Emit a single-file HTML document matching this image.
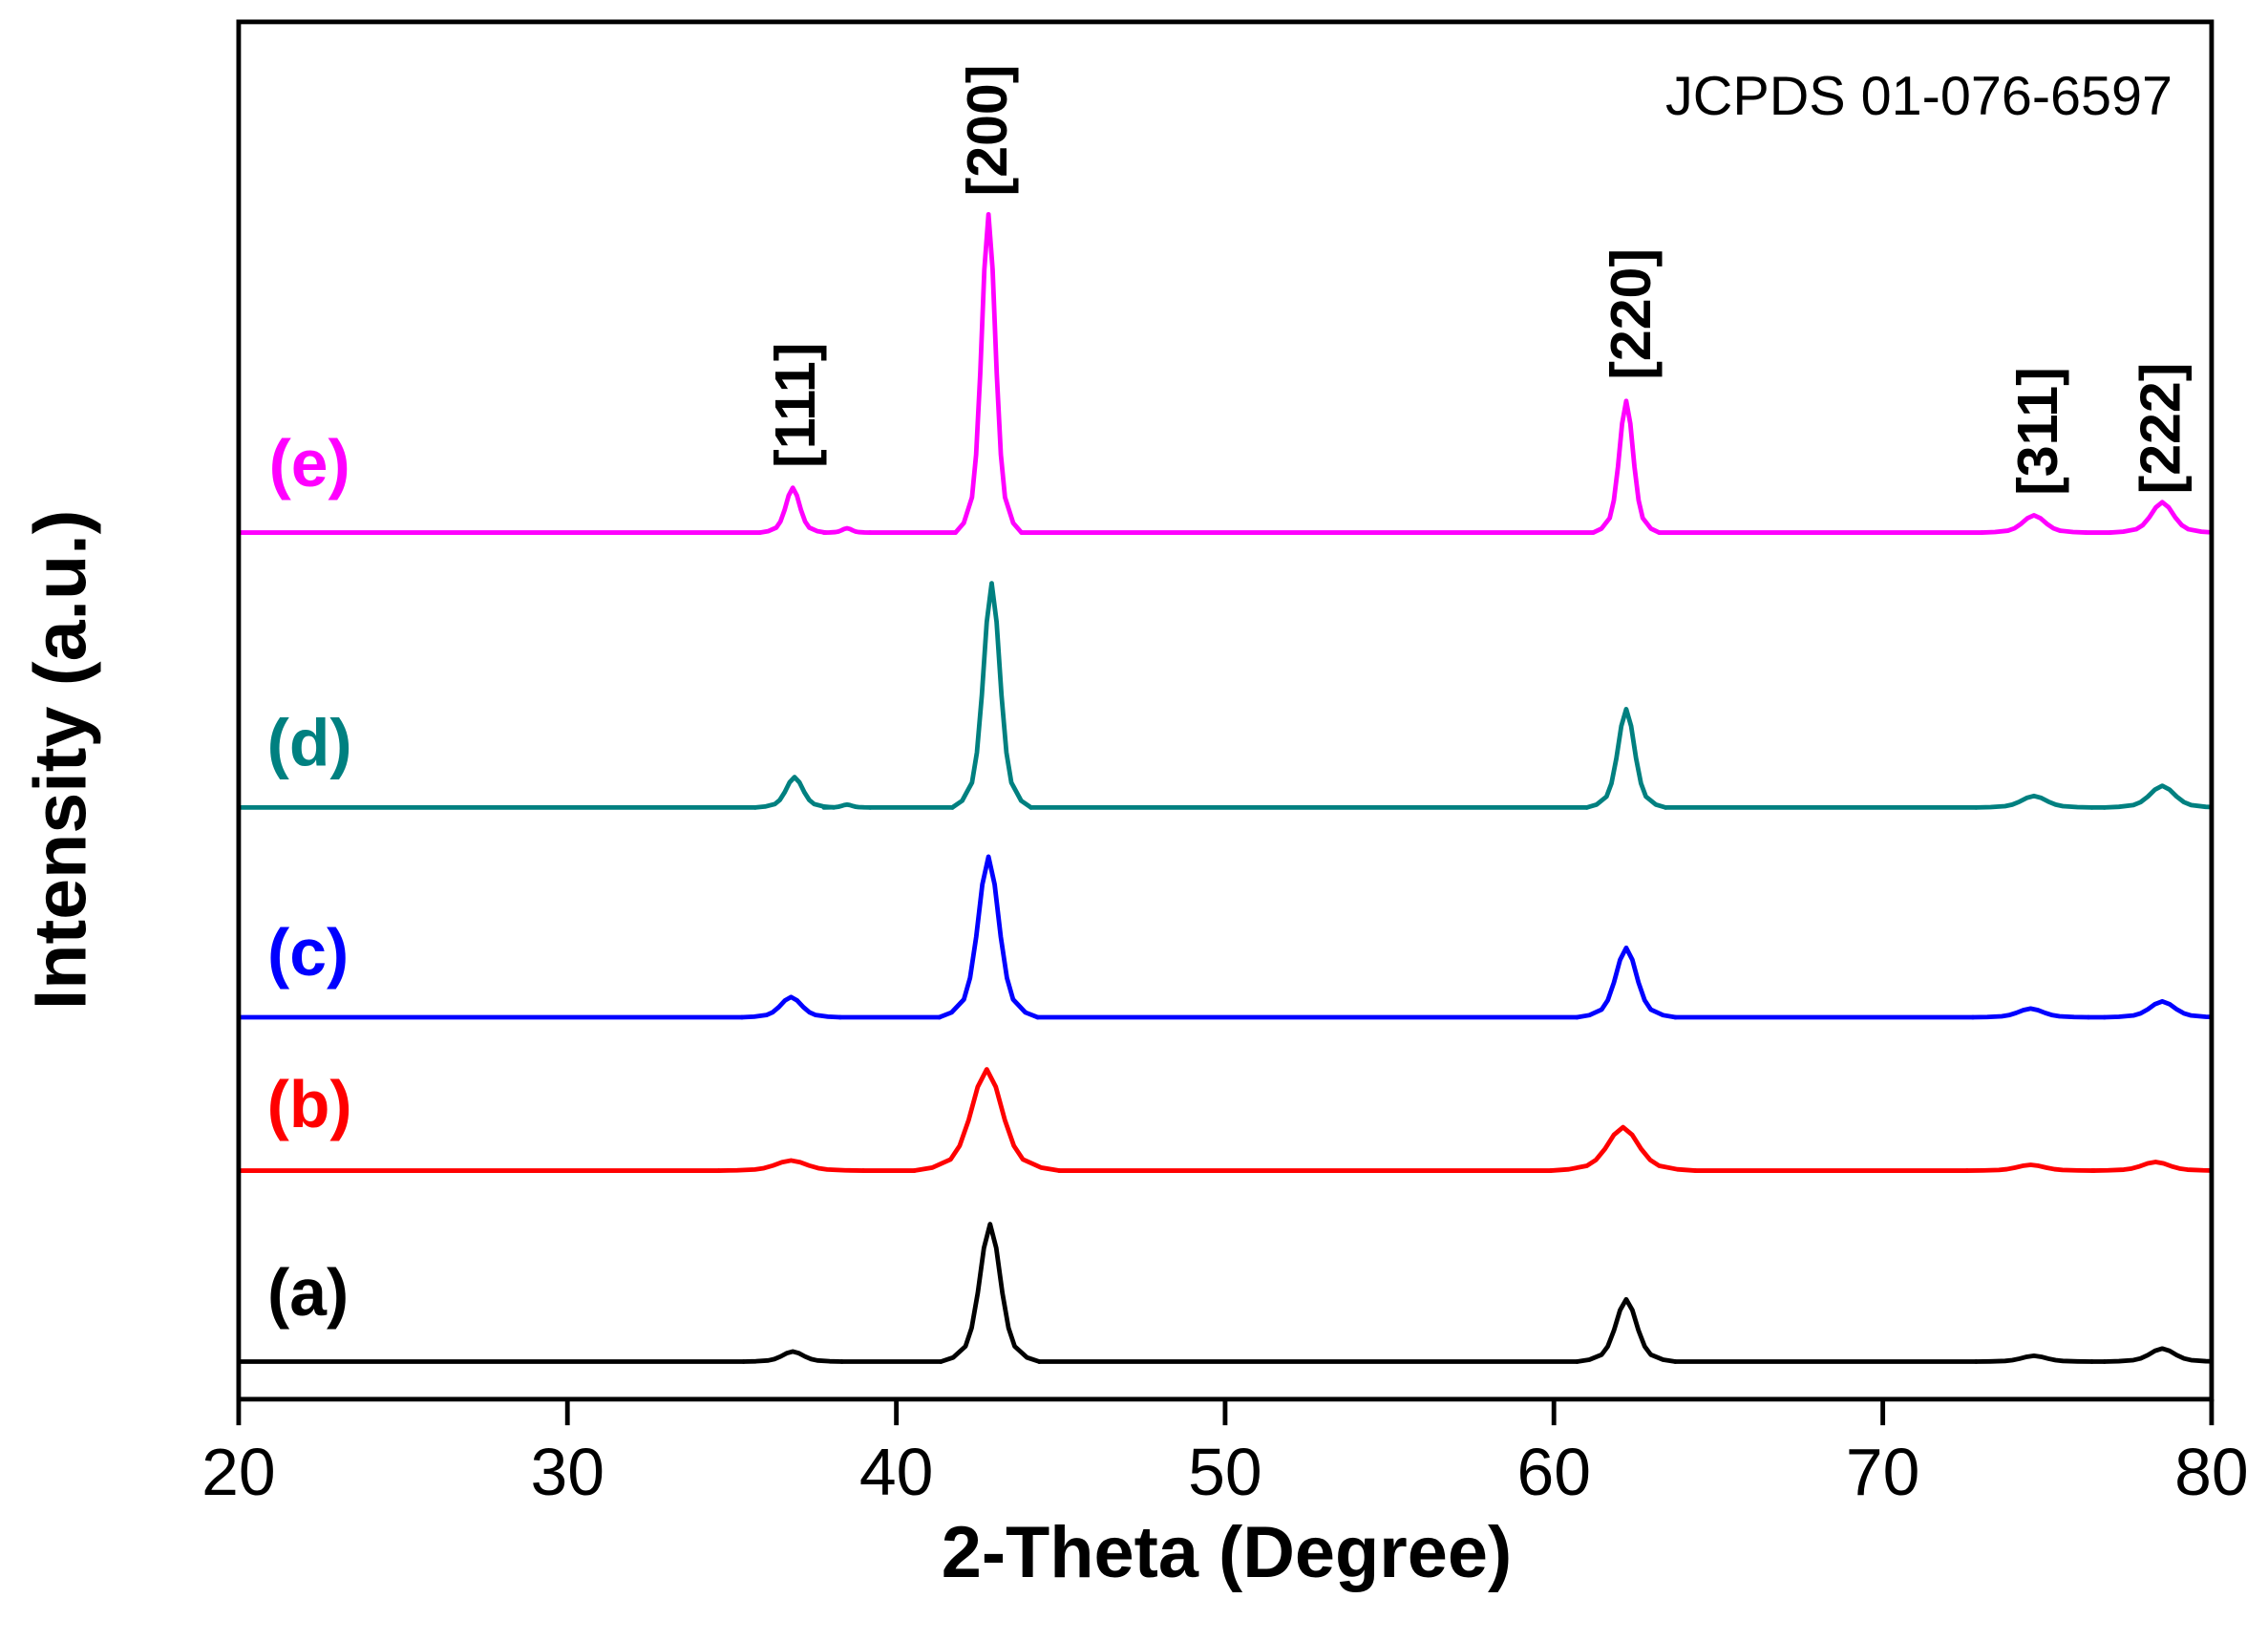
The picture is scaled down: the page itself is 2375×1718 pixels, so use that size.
<!DOCTYPE html>
<html><head><meta charset="utf-8"><style>html,body{margin:0;padding:0;background:#fff}svg{display:block}path[vector-effect]{stroke-width:4.8}</style></head>
<body>
<svg width="2375" height="1718" viewBox="0 0 1568 1134" xmlns="http://www.w3.org/2000/svg" font-family="Liberation Sans, Arial, sans-serif">
<defs><clipPath id="cp"><rect x="165" y="15" width="1364" height="952"/></clipPath></defs>
<rect width="1568" height="1134" fill="#fff"/>
<g clip-path="url(#cp)" fill="none" stroke-width="3.2" stroke-linejoin="round" stroke-linecap="round">
<g stroke="#000">
<path d="M165 941 H514 M582 941 H650.5 M718.5 941 H1090.3 M1158.3 941 H1366.2 M1446.2 941 H1454.9"/>
<path vector-effect="non-scaling-stroke" transform="translate(548.1,941) scale(8.5,-7)" d="M-4 0 L-3 .03 L-2 .111 L-1.5 .245 L-1 .5 L-.5 .827 L0 1 L.5 .827 L1 .5 L1.5 .245 L2 .111 L3 .03 L4 0"/>
<path vector-effect="non-scaling-stroke" transform="translate(684.5,941) scale(8.5,-95)" d="M-4 0 L-3 .03 L-2 .111 L-1.5 .245 L-1 .5 L-.5 .827 L0 1 L.5 .827 L1 .5 L1.5 .245 L2 .111 L3 .03 L4 0"/>
<path vector-effect="non-scaling-stroke" transform="translate(1124.3,941) scale(8.5,-43)" d="M-4 0 L-3 .03 L-2 .111 L-1.5 .245 L-1 .5 L-.5 .827 L0 1 L.5 .827 L1 .5 L1.5 .245 L2 .111 L3 .03 L4 0"/>
<path vector-effect="non-scaling-stroke" transform="translate(1406.2,941) scale(10,-4)" d="M-4 0 L-3 .03 L-2 .111 L-1.5 .245 L-1 .5 L-.5 .827 L0 1 L.5 .827 L1 .5 L1.5 .245 L2 .111 L3 .03 L4 0"/>
<path vector-effect="non-scaling-stroke" transform="translate(1494.9,941) scale(10,-9)" d="M-4 0 L-3 .03 L-2 .111 L-1.5 .245 L-1 .5 L-.5 .827 L0 1 L.5 .827 L1 .5 L1.5 .245 L2 .111 L3 .03 L4 0"/>
</g>
<g stroke="#ff0000">
<path d="M165 809 H496.9 M596.9 809 H632.2 M732.2 809 H1072.1 M1172.1 809 H1359.9"/>
<path vector-effect="non-scaling-stroke" transform="translate(546.9,809) scale(12.5,-7)" d="M-4 0 L-3 .03 L-2 .111 L-1.5 .245 L-1 .5 L-.5 .827 L0 1 L.5 .827 L1 .5 L1.5 .245 L2 .111 L3 .03 L4 0"/>
<path vector-effect="non-scaling-stroke" transform="translate(682.2,809) scale(12.5,-70)" d="M-4 0 L-3 .03 L-2 .111 L-1.5 .245 L-1 .5 L-.5 .827 L0 1 L.5 .827 L1 .5 L1.5 .245 L2 .111 L3 .03 L4 0"/>
<path vector-effect="non-scaling-stroke" transform="translate(1122.1,809) scale(12.5,-30)" d="M-4 0 L-3 .03 L-2 .111 L-1.5 .245 L-1 .5 L-.5 .827 L0 1 L.5 .827 L1 .5 L1.5 .245 L2 .111 L3 .03 L4 0"/>
<path vector-effect="non-scaling-stroke" transform="translate(1403.9,809) scale(11,-4)" d="M-4 0 L-3 .03 L-2 .111 L-1.5 .245 L-1 .5 L-.5 .827 L0 1 L.5 .827 L1 .5 L1.5 .245 L2 .111 L3 .03 L4 0"/>
<path vector-effect="non-scaling-stroke" transform="translate(1490.3,809) scale(11,-6)" d="M-4 0 L-3 .03 L-2 .111 L-1.5 .245 L-1 .5 L-.5 .827 L0 1 L.5 .827 L1 .5 L1.5 .245 L2 .111 L3 .03 L4 0"/>
</g>
<g stroke="#0000ff">
<path d="M165 703 H512.9 M580.9 703 H649.4 M717.4 703 H1090.3 M1158.3 703 H1363.9 M1443.9 703 H1454.9"/>
<path vector-effect="non-scaling-stroke" transform="translate(546.9,703) scale(8.5,-14)" d="M-4 0 L-3 .03 L-2 .111 L-1.5 .245 L-1 .5 L-.5 .827 L0 1 L.5 .827 L1 .5 L1.5 .245 L2 .111 L3 .03 L4 0"/>
<path vector-effect="non-scaling-stroke" transform="translate(683.4,703) scale(8.5,-111)" d="M-4 0 L-3 .03 L-2 .111 L-1.5 .245 L-1 .5 L-.5 .827 L0 1 L.5 .827 L1 .5 L1.5 .245 L2 .111 L3 .03 L4 0"/>
<path vector-effect="non-scaling-stroke" transform="translate(1124.3,703) scale(8.5,-48)" d="M-4 0 L-3 .03 L-2 .111 L-1.5 .245 L-1 .5 L-.5 .827 L0 1 L.5 .827 L1 .5 L1.5 .245 L2 .111 L3 .03 L4 0"/>
<path vector-effect="non-scaling-stroke" transform="translate(1403.9,703) scale(10,-6)" d="M-4 0 L-3 .03 L-2 .111 L-1.5 .245 L-1 .5 L-.5 .827 L0 1 L.5 .827 L1 .5 L1.5 .245 L2 .111 L3 .03 L4 0"/>
<path vector-effect="non-scaling-stroke" transform="translate(1494.9,703) scale(10,-11)" d="M-4 0 L-3 .03 L-2 .111 L-1.5 .245 L-1 .5 L-.5 .827 L0 1 L.5 .827 L1 .5 L1.5 .245 L2 .111 L3 .03 L4 0"/>
</g>
<g stroke="#008080">
<path d="M165 558 H522.1 M601.6 558 H658.4 M712.8 558 H1097.1 M1151.5 558 H1366.2 M1446.2 558 H1454.9"/>
<path vector-effect="non-scaling-stroke" transform="translate(549.3,558) scale(6.8,-21)" d="M-4 0 L-3 .03 L-2 .111 L-1.5 .245 L-1 .5 L-.5 .827 L0 1 L.5 .827 L1 .5 L1.5 .245 L2 .111 L3 .03 L4 0"/>
<path vector-effect="non-scaling-stroke" transform="translate(585.6,558) scale(4,-2)" d="M-4 0 L-3 .03 L-2 .111 L-1.5 .245 L-1 .5 L-.5 .827 L0 1 L.5 .827 L1 .5 L1.5 .245 L2 .111 L3 .03 L4 0"/>
<path vector-effect="non-scaling-stroke" transform="translate(685.6,558) scale(6.8,-155)" d="M-4 0 L-3 .03 L-2 .111 L-1.5 .245 L-1 .5 L-.5 .827 L0 1 L.5 .827 L1 .5 L1.5 .245 L2 .111 L3 .03 L4 0"/>
<path vector-effect="non-scaling-stroke" transform="translate(1124.3,558) scale(6.8,-68)" d="M-4 0 L-3 .03 L-2 .111 L-1.5 .245 L-1 .5 L-.5 .827 L0 1 L.5 .827 L1 .5 L1.5 .245 L2 .111 L3 .03 L4 0"/>
<path vector-effect="non-scaling-stroke" transform="translate(1406.2,558) scale(10,-8)" d="M-4 0 L-3 .03 L-2 .111 L-1.5 .245 L-1 .5 L-.5 .827 L0 1 L.5 .827 L1 .5 L1.5 .245 L2 .111 L3 .03 L4 0"/>
<path vector-effect="non-scaling-stroke" transform="translate(1494.9,558) scale(10,-15)" d="M-4 0 L-3 .03 L-2 .111 L-1.5 .245 L-1 .5 L-.5 .827 L0 1 L.5 .827 L1 .5 L1.5 .245 L2 .111 L3 .03 L4 0"/>
</g>
<g stroke="#ff00ff">
<path d="M165 368 H525.3 M601.6 368 H660.6 M706.2 368 H1101.5 M1147.1 368 H1370.2 M1442.2 368 H1458.9"/>
<path vector-effect="non-scaling-stroke" transform="translate(548.1,368) scale(5.7,-31)" d="M-4 0 L-3 .03 L-2 .111 L-1.5 .245 L-1 .5 L-.5 .827 L0 1 L.5 .827 L1 .5 L1.5 .245 L2 .111 L3 .03 L4 0"/>
<path vector-effect="non-scaling-stroke" transform="translate(585.6,368) scale(4,-3)" d="M-4 0 L-3 .03 L-2 .111 L-1.5 .245 L-1 .5 L-.5 .827 L0 1 L.5 .827 L1 .5 L1.5 .245 L2 .111 L3 .03 L4 0"/>
<path vector-effect="non-scaling-stroke" transform="translate(683.4,368) scale(5.7,-220)" d="M-4 0 L-3 .03 L-2 .111 L-1.5 .245 L-1 .5 L-.5 .827 L0 1 L.5 .827 L1 .5 L1.5 .245 L2 .111 L3 .03 L4 0"/>
<path vector-effect="non-scaling-stroke" transform="translate(1124.3,368) scale(5.7,-91)" d="M-4 0 L-3 .03 L-2 .111 L-1.5 .245 L-1 .5 L-.5 .827 L0 1 L.5 .827 L1 .5 L1.5 .245 L2 .111 L3 .03 L4 0"/>
<path vector-effect="non-scaling-stroke" transform="translate(1406.2,368) scale(9,-12)" d="M-4 0 L-3 .03 L-2 .111 L-1.5 .245 L-1 .5 L-.5 .827 L0 1 L.5 .827 L1 .5 L1.5 .245 L2 .111 L3 .03 L4 0"/>
<path vector-effect="non-scaling-stroke" transform="translate(1494.9,368) scale(9,-21)" d="M-4 0 L-3 .03 L-2 .111 L-1.5 .245 L-1 .5 L-.5 .827 L0 1 L.5 .827 L1 .5 L1.5 .245 L2 .111 L3 .03 L4 0"/>
</g>
</g>
<rect x="165" y="15" width="1364" height="952" fill="none" stroke="#000" stroke-width="3.2"/>
<g stroke="#000" stroke-width="3.2">
<line x1="165" y1="967" x2="165" y2="985"/><line x1="392.3" y1="967" x2="392.3" y2="985"/>
<line x1="619.7" y1="967" x2="619.7" y2="985"/><line x1="847" y1="967" x2="847" y2="985"/>
<line x1="1074.3" y1="967" x2="1074.3" y2="985"/><line x1="1301.7" y1="967" x2="1301.7" y2="985"/>
<line x1="1529" y1="967" x2="1529" y2="985"/>
</g>
<g font-size="46" text-anchor="middle">
<text x="165" y="1033">20</text><text x="392.3" y="1033">30</text><text x="619.7" y="1033">40</text>
<text x="847" y="1033">50</text><text x="1074.3" y="1033">60</text><text x="1301.7" y="1033">70</text><text x="1529" y="1033">80</text>
</g>
<text x="848" y="1090" font-size="50" font-weight="bold" text-anchor="middle">2-Theta (Degree)</text>
<text transform="translate(59,525) rotate(-90)" font-size="51" font-weight="bold" text-anchor="middle">Intensity (a.u.)</text>
<text x="1502" y="79" font-size="38" text-anchor="end">JCPDS 01-076-6597</text>
<g font-size="39" font-weight="bold" text-anchor="middle">
<text transform="translate(563,280) rotate(-90)">[111]</text>
<text transform="translate(696,90) rotate(-90)">[200]</text>
<text transform="translate(1141,217) rotate(-90)">[220]</text>
<text transform="translate(1422,298) rotate(-90)">[311]</text>
<text transform="translate(1507,296) rotate(-90)">[222]</text>
</g>
<g font-size="46" font-weight="bold" text-anchor="middle">
<text x="214" y="336" fill="#ff00ff">(e)</text>
<text x="214" y="529" fill="#008080">(d)</text>
<text x="213" y="674" fill="#0000ff">(c)</text>
<text x="214" y="779" fill="#ff0000">(b)</text>
<text x="213" y="909" fill="#000">(a)</text>
</g>
</svg>
</body></html>
